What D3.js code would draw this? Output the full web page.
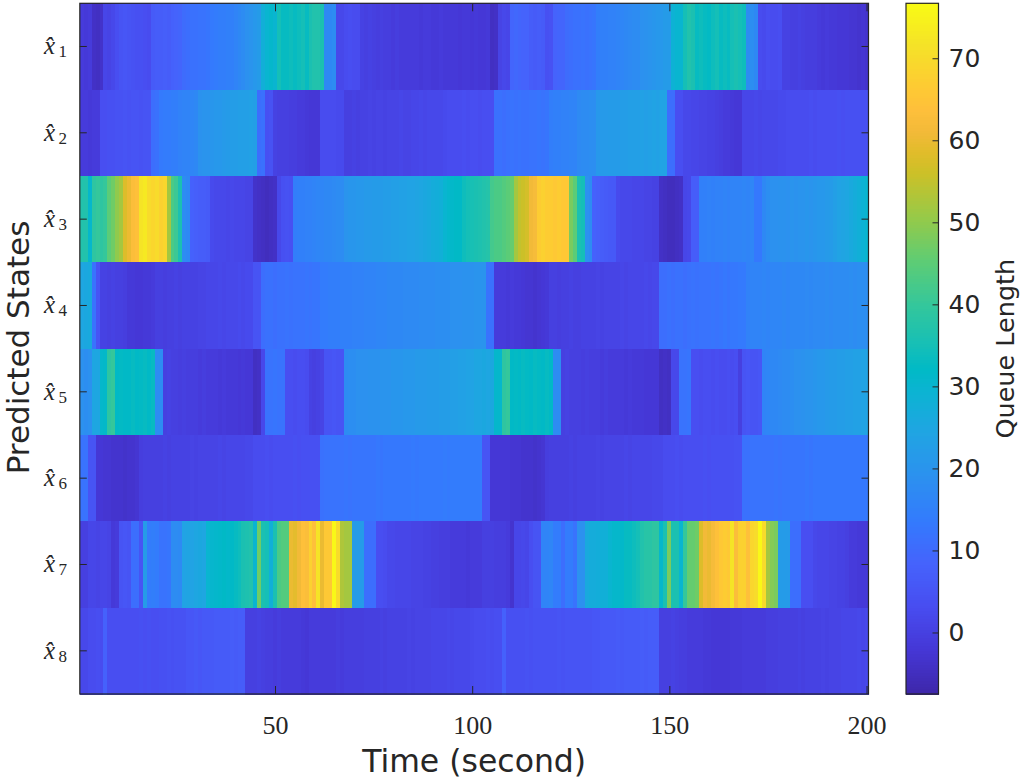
<!DOCTYPE html>
<html><head><meta charset="utf-8">
<script src="https://cdn.jsdelivr.net/npm/d3@7/dist/d3.min.js"></script>
<style>body{margin:0;background:#fff}svg{display:block}</style>
</head><body>
<svg id="chart" width="1021" height="778"></svg>
<script>
// ---------- data ----------
const states = ["1","2","3","4","5","6","7","8"];
const xTicks = [50,100,150,200];
const cbTicks = [0,10,20,30,40,50,60,70];
const colorRange = [-7.5, 76.7];

const row1 = [-1,-1.5,-1,-4,-4.5,-3.5,1.5,1,2,3.5,5,5.5,5,4.5,4,4,3.5,3,6.5,7,7,7.5,7,8,8.5,9,10.5,11,11.5,11.5,12,12,12.5,13.5,14,14.5,14.5,15,15,16,17,18,19,20,21,22,28,30,31,30,35,33,33,34,33,34,35,33,36,37,37,36,17,17,18,2,2,3,3.5,3,3,0.5,0,0.5,0,-0.5,0,-0.5,-0.5,-1,-0.5,-1,-1,-1,-1,-1,-1.5,-1,-1,-1.5,-1.5,-1,-1.5,-1.5,-1.5,-1.5,-2,-1.5,-1.5,-2,-1.5,-2,-2,-1.5,-4.5,-4,1,2,1.5,9,9.5,9,8.5,8.5,7,6.5,7,6.5,4,4.5,8.5,9,9,10.5,11,11.5,11.5,12,11.5,12,12.5,14.5,15,15,15.5,15.5,16,16.5,17,17.5,18,18,19,19.5,20,20.5,21,21,22,22,29,30,30,35,37,36,33,34,33,32.5,34,35,33,34,33,35,36,35,34,18,18.5,17,3,2.5,3.5,3,3,3.5,0.5,0.5,0,0,0.5,0,-0.5,-0.5,-0.5,-1,-1.5,-1,-1.5,-1.5,-2,-2,-2,-2.5,-2.5,-3,-2.5,-3];
const row2 = [-1,-1,-1.5,-1,-1,3.5,3.5,4,4,4.5,4.5,5,4.5,5,5,4.5,5,5,11,11.5,13.5,14,14,14.5,14.5,15.5,16,16,16.5,17,19.5,20,20,20.5,21,21,21.5,22,22.5,22.5,23,23,23,23.5,23,11,11.5,4,4.5,0.5,0,0,0,-0.5,-0.5,-1,-1,-1.5,-2,-2,-2,3,3,3,3,2.5,2.5,0,0,0.5,0,0.5,0.5,1,0.5,1,1,0.5,1,1,1,1.5,1,1,1.5,1.5,2,1.5,2,2,2,2,2.5,3,3,3,3,3.5,3,3.5,3.5,3,3.5,3.5,3.5,11.5,11.5,11,11.5,12,11.5,12,11.5,11.5,12,12,12.5,12,12.5,14.5,15,15,15.5,15.5,16,16,17.5,18,18,18.5,18.5,21,21.5,21.5,22,22,22,22.5,22.5,23,23,23,23.5,23,23.5,24,23.5,24,24,11,11,3.5,3.5,2,2,1.5,1.5,1,1,0.5,0.5,0,-0.5,-1,-1,-1.5,-2,-2,1.5,1.5,1.5,2,1.5,2,2,2,2,2.5,2.5,3,3,3,3,3,3,3.5,3,3.5,3.5,3.5,3.5,3.5,4,3.5,4,4,4,4,4,4];
const row3 = [37,37,31,39,40,39,40,45,47,50,52,58,60,63,64,72,73,70,69,70,68,69,52,43,41,36,18,17,8,7.5,7,7,6.5,2.5,2,2,2,1.5,2,1.5,1.5,1.5,1,1,-3.5,-4,-4.5,-5,-4.5,-4,2,4,4.5,4,14.5,15,15,15.5,15.5,16,16.5,16.5,17,17,17.5,18,18,20,20.5,20.5,21,21,21.5,21.5,22,22,22,22.5,22.5,23,23,23.5,23.5,24,24,24.5,25,25.5,26,27,27.5,28,30,31,31.5,32,32,34,35,35.5,36,36.5,37,37.5,42,43,43,44,45,46,52,55,56,57,61,62,67,68,67,67,66,67,66,66,48,45,36,35,19,18,8,7.5,7,6.5,6,6,2.5,2,2,2,1.5,1.5,1.5,1,1,0.5,0.5,-4,-4.5,-5,-5,-4.5,-4,1.5,2,7,7,15,15,15.5,15,15.5,15.5,16,15.5,16,16,16,16.5,16,16.5,13,13,17,18.5,19,19,19.5,19.5,19,20,19.5,20,20,20.5,20,20.5,21,21,21.5,22,23,24,24.5,25,26,27,28,29,30];
const row4 = [25,25.5,26,12,5,0.5,0.5,0,0.5,0,0,-0.5,-1.5,-1.5,-2,-2,-1.5,-1.5,-1,0,0,-0.5,0,0,0.5,0,0.5,0.5,0.5,0.5,1,1,1.5,1.5,1.5,2,1.5,2,2,2,2.5,2,2.5,2.5,5,5,11,11.5,11.5,11,11.5,11.5,12,11.5,12,12,12,12.5,12,12.5,12.5,14,14,14.5,14.5,14.5,15,15,15,15.5,15.5,15.5,16,16,16,16.5,16.5,16.5,17,17,17,17,17.5,17.5,17.5,17.5,18,18,18,18,18.5,18.5,18.5,18.5,19,19,19,19.5,19.5,19.5,20,20,20,12,11.5,-1,-1,-1,-1.5,-1,-1.5,-1.5,-2,-2.5,-2.5,-3,-2.5,-2,-1.5,0,0,-0.5,0,0,0.5,0,0,0.5,0.5,0.5,0.5,1,0.5,1,1,1,1,1.5,1,1.5,1.5,1.5,1.5,2,1.5,2,2,11,11,11.5,11,11.5,11.5,11,11.5,12,11.5,12,12,12,12.5,12,12.5,13,12.5,13,13,13.5,13.5,15.5,16,16,16,16.5,16,16.5,16.5,16.5,17,16.5,17,17,17,17,17.5,17,17.5,17.5,17.5,18,17.5,18,18,18,18,18.5,18,18.5,18.5,18.5];
const row5 = [19,18.5,19,25,25,31,31.5,39,40,32,32.5,32,32,33,32,32.5,33,32,33,18,18,0,0.5,0,0,-0.5,0,-0.5,-0.5,-0.5,-1,-0.5,-1,-1,-1,-1.5,-1,-1.5,-1.5,-1.5,-2,-1.5,-2,-2,-4.5,-4,2,12,12,12.5,12,12,3.5,3.5,3,3.5,3.5,3,0.5,0,0.5,1,5,5,5.5,5,5,18,18.5,18.5,19,19,19,19.5,19.5,19.5,20,20,20,20.5,20.5,20.5,21,21,21,21.5,21.5,21.5,22,22,22,22.5,22.5,22.5,23,23,23.5,23.5,24,24,25,25,25.5,25,25.5,31,31,39,40,32,32.5,32,33,32.5,32,33,32.5,32,33,32,18,18,0,0.5,0,0,0,-0.5,0,-0.5,-0.5,-0.5,-1,-0.5,-1,-1,-1,-1,-1.5,-1,-1.5,-1.5,-1.5,-2,-2,-2,-2,-4.5,-4,-4.5,2,2,12,12,12.5,3.5,3.5,3,3.5,3.5,3,3.5,3,3,3.5,3,3.5,0,5,5.5,5,5,5.5,16,16.5,17,17,17.5,18,18,18.5,19,19,19.5,20,20,20.5,21,21,21.5,22,22,22.5,22.5,23,23,23.5,23.5,24,24];
const row6 = [12,12,5,5,-2,-2,-2.5,-2.5,-3,-3,-3,-3.5,-3,-3,-2.5,-0.5,0,0,0,0,0,0.5,0,0.5,0.5,0.5,0.5,0.5,1,0.5,1,1,1,1,1,1.5,1,1.5,1.5,1.5,1.5,1.5,2,2,3,3,3,3.5,3,3.5,3.5,3.5,3.5,3.5,4,3.5,4,4,4,4,4,11.5,12,12,12,12,12,12.5,12,12.5,12.5,12.5,12.5,12.5,12.5,13,12.5,13,13,13,13,13,13,13,13.5,13,13.5,13.5,13.5,13.5,13.5,13.5,14,13.5,14,14,14,14,14,14,14,14,5,5,-2,-2,-2,-2,-2,-2.5,-2.5,-2.5,-3,-3,-3,-3.5,-3,-2.5,-0.5,0,0,0,0,0,0.5,0,0.5,0.5,0.5,0.5,0.5,1,0.5,1,1,1,1,1,1.5,1,1.5,1.5,1.5,1.5,1.5,2,2,2,3,3,3,3.5,3,3.5,3.5,3.5,3.5,3.5,4,3.5,4,4,4,4,4,4,4.5,4.5,11.5,11.5,12,12,12,12,12,12,12.5,12,12.5,12.5,12.5,12.5,12.5,12.5,13,12.5,13,13,13,13,13,13,13,13,13,13,13,13,13,13];
const row7 = [0,0,1.5,1.5,1,1.5,1.5,1,-1.5,-1,5,5.5,5,11,11,5,22,14,14.5,14,12,12,12.5,18,18,17.5,24,24.5,24,25,25.5,25,30,30.5,31,31.5,32,31.5,32,33,34,36,36.5,37,30,47,36,35,28,36,43,44,44,60,59,61,64,63,68,64,72,60,66,66,76,70,53,52,52,22,22,22,11,11,11,3.5,3.5,3,2,2,1.5,1.5,1.5,1.5,1,1,1,0.5,0.5,0,0,-0.5,-0.5,-0.5,-1,-1,-1,-1,-1.5,-1,-1,-1,0,0,0,-0.5,-0.5,-0.5,-1,-3,1.5,1.5,2,1.5,3.5,5,5,16,16,16.5,14,14,11,14,14,12,19,19,26,27,27,27.5,28,28,30,31,31,31.5,33,33,34,35,37,38,38,39,39,31,36,48,36,36,30,40,46,46,47,58,61,60,62,64,66,67,66,72,63,68,68,64,69,70,76,70,52,49,48,22,22,22,11,11,11,3.5,3.5,3.5,2,1.5,1.5,1.5,1,1,0.5,0.5,0,-1,-1,-1.5,-1.5,-1.5];
const row8 = [2,2,3,3,3.5,3,8,3.5,3.5,3.5,3.5,3.5,3.5,3.5,3.5,4,3.5,4,3.5,3.5,4,4,4.5,4,4.5,4.5,4.5,5.5,5.5,6,5.5,6,6,6,6.5,6.5,6.5,6.5,7,6.5,7,7,0,0,0,0.5,0,-0.5,-0.5,-1,-0.5,-1,-1,-1,-1,-1,-1.5,-2,-1,-1,-1,-1,-1,-1,-1,-0.5,-1,-0.5,-0.5,-0.5,-0.5,-0.5,0,0,0,0,0.5,0,0.5,0.5,0.5,0.5,0.5,1,0.5,1,1,1,1,1.5,1.5,1.5,1.5,2,1.5,2,2,2,2,2.5,3,3,3,3.5,3,3.5,3.5,8,4,4,4,4,4,4.5,4,4.5,4.5,4.5,4.5,4.5,4.5,5,4.5,5,5,5,5,5,5,5,5.5,5.5,6,6,6,6,6.5,6,6.5,6.5,6.5,6.5,7,6.5,7,7,7,0,0,0,0.5,0,-0.5,-0.5,-1,-1,-1,-1,-1.5,-1.5,-2,-2,-2,-2,-2,-1.5,-1.5,-1.5,-1,-1,-1,-1,-1,-1,-0.5,-0.5,-0.5,0,0,0,0,0,0.5,0,0.5,0.5,0.5,0.5,1,0.5,1,1,1,1.5,1.5,1.5,1.5,2,1.5,2];
const queueRows = [row1,row2,row3,row4,row5,row6,row7,row8];

// ---------- style: parula colormap stops (index of 256, rgb) ----------
const parulaStops = [
 [0,[0.2422,0.1504,0.6603]],[16,[0.2704,0.2138,0.8346]],[32,[0.2813,0.2985,0.9397]],
 [48,[0.2710,0.3860,0.9898]],[64,[0.2006,0.4803,0.9906]],[80,[0.1716,0.5655,0.9393]],
 [96,[0.1288,0.6408,0.8910]],[112,[0.0433,0.7039,0.8242]],[120,[0.0018,0.7275,0.7752]],
 [128,[0.0770,0.7468,0.7224]],[144,[0.2061,0.7808,0.6065]],[160,[0.3671,0.8021,0.4563]],
 [176,[0.5886,0.7913,0.2833]],[192,[0.7945,0.7554,0.1570]],[200,[0.8804,0.7372,0.1650]],
 [208,[0.9523,0.7284,0.2237]],[216,[0.9971,0.7513,0.2309]],[224,[0.9949,0.7915,0.2012]],
 [240,[0.9608,0.8902,0.1532]],[255,[0.9769,0.9839,0.0805]]
];

const ink = "#262626";
const svg = d3.select("#chart");
const plot = {left:79.8, right:868.5, top:3.3, bottom:694};

const nCols = row1.length;
const x = d3.scaleLinear().domain([0.5, nCols + 0.5]).range([plot.left, plot.right]);
const y = d3.scaleBand().domain(states).range([plot.top, plot.bottom]).padding(0);
const color = d3.scaleLinear()
  .domain(parulaStops.map(s => colorRange[0] + s[0]/255*(colorRange[1]-colorRange[0])))
  .range(parulaStops.map(s => d3.rgb(s[1][0]*255, s[1][1]*255, s[1][2]*255)))
  .interpolate(d3.interpolateRgb).clamp(true);

// cells
const cells = [];
queueRows.forEach((row, r) => row.forEach((v, i) => cells.push({s: states[r], t: i + 1, v})));
svg.append("g").attr("shape-rendering","crispEdges")
  .selectAll("rect").data(cells).join("rect")
  .attr("x", d => x(d.t - 0.5))
  .attr("y", d => y(d.s))
  .attr("width", d => x(d.t + 0.5) - x(d.t - 0.5) + 0.6)
  .attr("height", y.bandwidth() + 0.6)
  .attr("fill", d => color(d.v));

// axes (ticks inward, both sides)
function styleAxis(g){
  g.select(".domain").remove();
  g.selectAll(".tick line").attr("stroke", ink).attr("stroke-width", 1);
}
svg.append("g").attr("transform", `translate(0,${plot.bottom})`)
  .call(d3.axisBottom(x).tickValues(xTicks).tickSize(-8).tickPadding(22).tickFormat(d3.format("d")))
  .call(styleAxis)
  .call(g => g.selectAll(".tick text").attr("fill", ink)
      .attr("font-family","'Liberation Serif','DejaVu Serif',serif").attr("font-size", 26));
svg.append("g").attr("transform", `translate(0,${plot.top})`)
  .call(d3.axisTop(x).tickValues(xTicks).tickSize(-8).tickFormat(""))
  .call(styleAxis);
svg.append("g").attr("transform", `translate(${plot.left},0)`)
  .call(d3.axisLeft(y).tickSize(-7).tickFormat(""))
  .call(styleAxis);
svg.append("g").attr("transform", `translate(${plot.right},0)`)
  .call(d3.axisRight(y).tickSize(-7).tickFormat(""))
  .call(styleAxis);

// y tick labels: x-hat (combining circumflex) with subscript
const ylab = svg.append("g").attr("fill", ink).attr("font-family","'Liberation Serif','DejaVu Serif',serif");
states.forEach(s => {
  const yc = y(s) + y.bandwidth()/2;
  const t = ylab.append("text").attr("x", 44).attr("y", yc + 8).attr("font-size", 25);
  t.append("tspan").attr("font-style","italic").text("x\u0302");
  t.append("tspan").attr("x", 58.5).attr("y", yc + 11).attr("font-size", 17).text(s);
});

// frame
svg.append("rect").attr("x", plot.left).attr("y", plot.top)
  .attr("width", plot.right - plot.left).attr("height", plot.bottom - plot.top)
  .attr("fill","none").attr("stroke", ink).attr("stroke-width", 1.2);

// axis titles
svg.append("text").attr("x", (plot.left+plot.right)/2).attr("y", 772)
  .attr("text-anchor","middle").attr("fill", ink)
  .attr("font-family","'DejaVu Sans',sans-serif").attr("font-size", 31.5).text("Time (second)");
svg.append("text").attr("transform", `translate(28.5,347.5) rotate(-90)`)
  .attr("text-anchor","middle").attr("fill", ink)
  .attr("font-family","'DejaVu Sans',sans-serif").attr("font-size", 31).text("Predicted States");

// colorbar
const cb = {left:906, right:938.5};
const cy = d3.scaleLinear().domain(colorRange).range([plot.bottom, plot.top]);
const cbSteps = d3.range(0, 256);
const stepV = (colorRange[1]-colorRange[0])/256;
svg.append("g").attr("shape-rendering","crispEdges")
  .selectAll("rect").data(cbSteps).join("rect")
  .attr("x", cb.left).attr("width", cb.right - cb.left)
  .attr("y", k => cy(colorRange[0] + (k+1)*stepV))
  .attr("height", k => cy(colorRange[0] + k*stepV) - cy(colorRange[0] + (k+1)*stepV) + 0.6)
  .attr("fill", k => color(colorRange[0] + (k+0.5)*stepV));
svg.append("g").attr("transform", `translate(${cb.right},0)`)
  .call(d3.axisRight(cy).tickValues(cbTicks).tickSize(-6).tickPadding(10))
  .call(styleAxis)
  .call(g => g.selectAll(".tick text").attr("fill", ink)
     .attr("font-family","'DejaVu Sans',sans-serif").attr("font-size", 25));
svg.append("rect").attr("x", cb.left).attr("y", plot.top)
  .attr("width", cb.right - cb.left).attr("height", plot.bottom - plot.top)
  .attr("fill","none").attr("stroke", ink).attr("stroke-width", 1.2);
svg.append("text").attr("transform", `translate(1014,${(plot.top+plot.bottom)/2}) rotate(-90)`)
  .attr("text-anchor","middle").attr("fill", ink)
  .attr("font-family","'DejaVu Sans',sans-serif").attr("font-size", 25.5).text("Queue Length");
</script>
</body></html>
